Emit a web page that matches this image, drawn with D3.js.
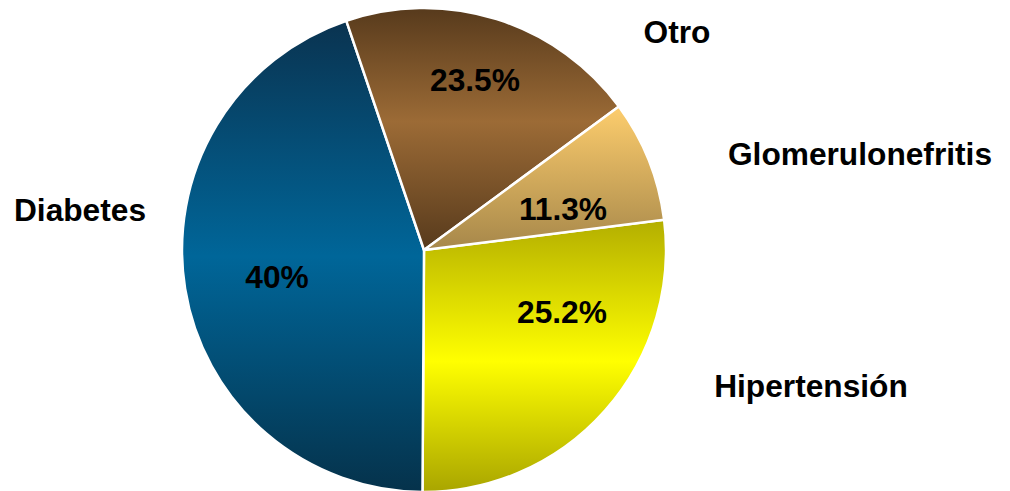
<!DOCTYPE html>
<html>
<head>
<meta charset="utf-8">
<script src="https://cdn.jsdelivr.net/npm/d3@7"></script>
<style>
  html, body { margin: 0; padding: 0; background: #ffffff; }
  svg { display: block; }
</style>
</head>
<body>
<svg id="chart" width="1010" height="491"></svg>
<script>
// ---- data ----
const categories = ["Hipertensión", "Diabetes", "Otro", "Glomerulonefritis"];
const sliceShares = [27.1, 44.7, 20.1, 8.1];
// percentages printed on the slices
const percentLabels = ["25.2%", "40%", "23.5%", "11.3%"];

// ---- styling / layout ----
const W = 1010, H = 491;
const cx = 424, cy = 250, R = 242;
const startDeg = 82.8;
const gradients = [
  [[0, "#b3ae00"], [0.52, "#ffff00"], [1, "#a9a500"]],
  [[0, "#0a3350"], [0.5, "#006699"], [1, "#05324b"]],
  [[0, "#573a1c"], [0.47, "#9c6b36"], [1, "#573a1c"]],
  [[0, "#fdcd6d"], [1, "#a6874a"]]
];
const pctPos = [[562, 323], [277, 288], [475, 91], [563, 220]];
const catPos = [[811, 397], [80, 221], [677, 43], [860, 165]];
const fontFamily = "'Liberation Sans', Arial, Helvetica, sans-serif";
const fontSize = 31.7;

const svg = d3.select("#chart");
const defs = svg.append("defs");
gradients.forEach((stops, i) => {
  const g = defs.append("linearGradient")
    .attr("id", "grad" + i)
    .attr("x1", 0).attr("y1", 0).attr("x2", 0).attr("y2", 1);
  stops.forEach(s => g.append("stop").attr("offset", s[0]).attr("stop-color", s[1]));
});

const start = startDeg * Math.PI / 180;
const pie = d3.pie().sort(null).value(d => d)
  .startAngle(start).endAngle(start + 2 * Math.PI);
const arc = d3.arc().innerRadius(0).outerRadius(R);

const g = svg.append("g").attr("transform", `translate(${cx},${cy})`);
g.selectAll("path")
  .data(pie(sliceShares))
  .join("path")
  .attr("d", arc)
  .attr("fill", (d, i) => `url(#grad${i})`)
  .attr("stroke", "#ffffff")
  .attr("stroke-width", 2.5)
  .attr("stroke-linejoin", "round");

svg.selectAll("text.pct")
  .data(percentLabels)
  .join("text")
  .attr("class", "pct")
  .attr("x", (d, i) => pctPos[i][0])
  .attr("y", (d, i) => pctPos[i][1])
  .attr("text-anchor", "middle")
  .attr("font-family", fontFamily)
  .attr("font-weight", "bold")
  .attr("font-size", fontSize)
  .attr("fill", "#000")
  .text(d => d);

svg.selectAll("text.cat")
  .data(categories)
  .join("text")
  .attr("class", "cat")
  .attr("x", (d, i) => catPos[i][0])
  .attr("y", (d, i) => catPos[i][1])
  .attr("text-anchor", "middle")
  .attr("font-family", fontFamily)
  .attr("font-weight", "bold")
  .attr("font-size", fontSize)
  .attr("fill", "#000")
  .text(d => d);
</script>
</body>
</html>
